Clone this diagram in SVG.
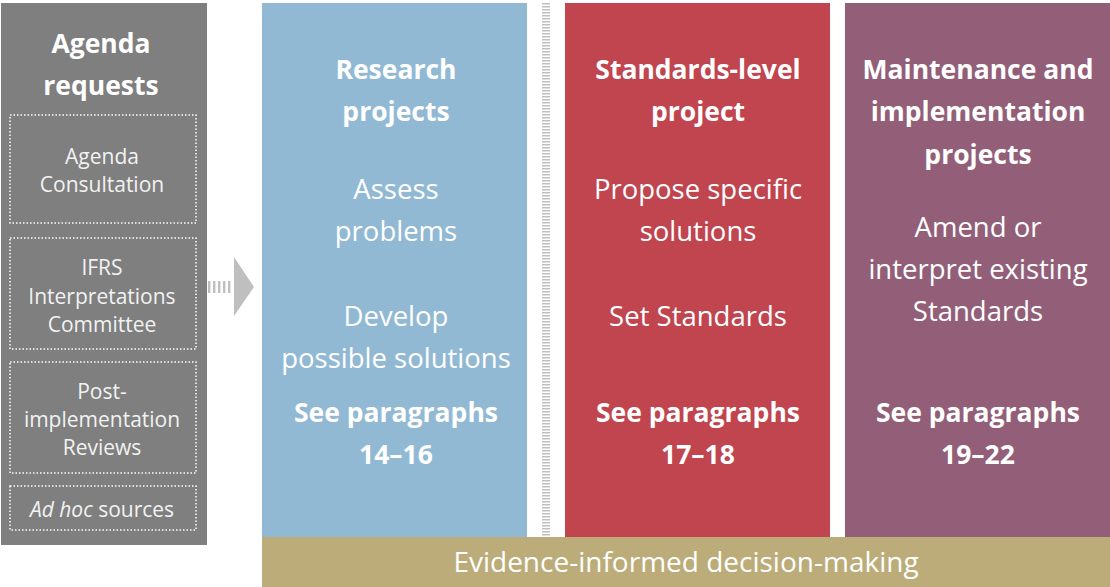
<svg xmlns="http://www.w3.org/2000/svg" width="1110" height="587" viewBox="0 0 1110 587">
<style>
text{font-family:"Open Sans",Lato,"Liberation Sans",sans-serif;fill:#fff;text-anchor:middle}
.h{font-weight:bold;font-size:26.5px}
.b{font-size:27.5px}
.s{font-size:21px;fill:#f2f2f2}
.dot{fill:none;stroke:#fff;stroke-width:1.5;stroke-dasharray:1.5 2}
</style>
<rect width="1110" height="587" fill="#fff"/>
<g id="agenda">
<rect x="1" y="3" width="206" height="542" fill="#7f7f7f"/>
<text class="h" x="101" y="53">Agenda</text>
<text class="h" x="101" y="95">requests</text>
</g>
<g id="agenda-consultation">
<rect class="dot" x="10" y="115" width="186" height="108"/>
<text class="s" x="102" y="164">Agenda</text>
<text class="s" x="102" y="192">Consultation</text>
</g>
<g id="ifrs-ic">
<rect class="dot" x="10" y="238" width="186" height="111"/>
<text class="s" x="102" y="275">IFRS</text>
<text class="s" x="102" y="304">Interpretations</text>
<text class="s" x="102" y="332">Committee</text>
</g>
<g id="pir">
<rect class="dot" x="10" y="362" width="186" height="111"/>
<text class="s" x="102" y="399">Post-</text>
<text class="s" x="102" y="427">implementation</text>
<text class="s" x="102" y="455">Reviews</text>
</g>
<g id="adhoc">
<rect class="dot" x="10" y="486" width="186" height="44"/>
<text class="s" x="102" y="517"><tspan font-style="italic">Ad hoc</tspan> sources</text>
</g>
<g id="connectors">
<line x1="208" y1="287" x2="232" y2="287" stroke="#bfbfbf" stroke-width="12" stroke-dasharray="2.4 2.6"/>
<polygon points="234,257 254,287 234,316" fill="#bfbfbf"/>
<line x1="546" y1="3" x2="546" y2="537" stroke="#bfbfbf" stroke-width="8" stroke-dasharray="1.5 1.5"/>
</g>
<g id="research">
<rect x="262" y="3" width="265" height="534" fill="#92b9d4"/>
<text class="h" x="396" y="79">Research</text>
<text class="h" x="396" y="121">projects</text>
<text class="b" x="396" y="199">Assess</text>
<text class="b" x="396" y="241">problems</text>
<text class="b" x="396" y="326">Develop</text>
<text class="b" x="396" y="368">possible solutions</text>
<text class="h" x="396" y="422">See paragraphs</text>
<text class="h" x="396" y="464">14–16</text>
</g>
<g id="standards">
<rect x="565" y="3" width="265" height="534" fill="#c0454f"/>
<text class="h" x="698" y="79">Standards-level</text>
<text class="h" x="698" y="121">project</text>
<text class="b" x="698" y="199">Propose specific</text>
<text class="b" x="698" y="241">solutions</text>
<text class="b" x="698" y="326">Set Standards</text>
<text class="h" x="698" y="422">See paragraphs</text>
<text class="h" x="698" y="464">17–18</text>
</g>
<g id="maintenance">
<rect x="845" y="3" width="265" height="534" fill="#935f78"/>
<text class="h" x="978" y="79">Maintenance and</text>
<text class="h" x="978" y="121">implementation</text>
<text class="h" x="978" y="164">projects</text>
<text class="b" x="978" y="237">Amend or</text>
<text class="b" x="978" y="279">interpret existing</text>
<text class="b" x="978" y="321">Standards</text>
<text class="h" x="978" y="422">See paragraphs</text>
<text class="h" x="978" y="464">19–22</text>
</g>
<g id="evidence">
<rect x="262" y="537" width="848" height="50" fill="#bbac79"/>
<text class="b" x="686" y="572" style="font-size:28px">Evidence-informed decision-making</text>
</g>
</svg>
